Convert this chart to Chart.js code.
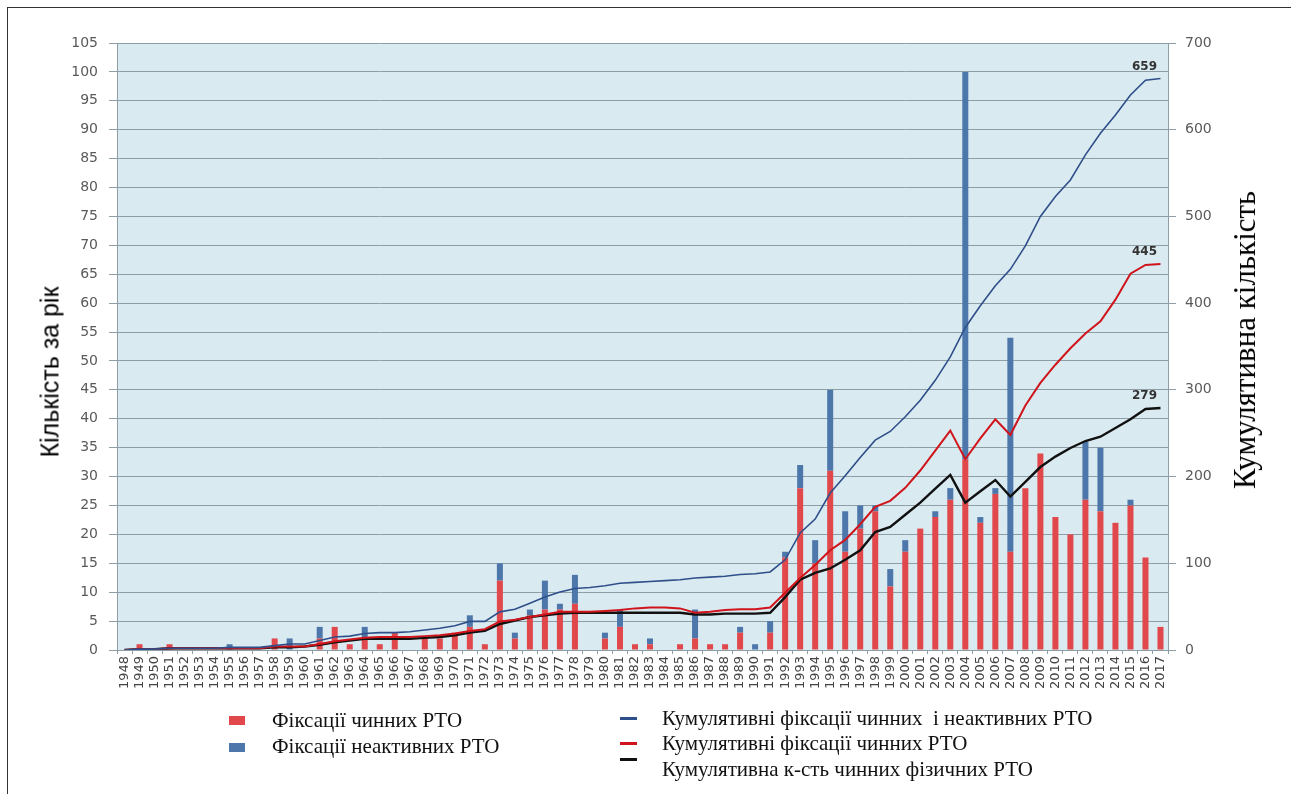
<!DOCTYPE html>
<html lang="uk">
<head>
<meta charset="utf-8">
<title>Фіксації РТО</title>
<script src="https://cdn.jsdelivr.net/npm/chart.js@4.4.1/dist/chart.umd.min.js"></script>
<style>
  html, body { margin: 0; padding: 0; background: #fff; }
  #wrap { position: relative; width: 1291px; height: 794px; overflow: hidden; background: #fff; }
  #frame { position: absolute; left: 7px; top: 7px; width: 1300px; height: 800px;
           border-left: 1.5px solid #333; border-top: 1.5px solid #333; }
  #myChart { position: absolute; left: 0; top: 0; }
  .axisTitle { position: absolute; white-space: nowrap; color: #000;
               transform: translate(-50%, -50%) rotate(-90deg); }
  .lgText { position: absolute; white-space: nowrap; font: 21px "Liberation Serif", serif;
            color: #111; line-height: 24px; }
  .lgBox { position: absolute; width: 16px; height: 9px; }
  .lgLine { position: absolute; width: 17px; height: 3px; }
</style>
</head>
<body>
<div id="wrap">
  <div id="frame"></div>
  <canvas id="myChart" width="1291" height="794"></canvas>

  <div class="axisTitle" style="left:50px; top:372px; font:25px 'Liberation Sans', sans-serif;">Кількість за рік</div>
  <div class="axisTitle" style="left:1245px; top:340px; font:31px 'Liberation Serif', serif;">Кумулятивна кількість</div>

  <!-- legend -->
  <div class="lgBox" style="left:229px; top:716px; background:#e0484c;"></div>
  <div class="lgText" style="left:272px; top:708px;">Фіксації чинних РТО</div>
  <div class="lgBox" style="left:229px; top:743px; background:#4d77aa;"></div>
  <div class="lgText" style="left:272px; top:734px;">Фіксації неактивних РТО</div>

  <div class="lgLine" style="left:620px; top:717px; background:#2f4f8a;"></div>
  <div class="lgText" style="left:662px; top:706px;">Кумулятивні фіксації чинних &nbsp;і неактивних РТО</div>
  <div class="lgLine" style="left:620px; top:742px; background:#d0141b;"></div>
  <div class="lgText" style="left:662px; top:731px;">Кумулятивні фіксації чинних РТО</div>
  <div class="lgLine" style="left:620px; top:758px; background:#111;"></div>
  <div class="lgText" style="left:662px; top:757px;">Кумулятивна к-сть чинних фізичних РТО</div>
</div>

<script>
// categories
const years = [
  "1948", "1949", "1950", "1951", "1952", "1953", "1954", "1955", "1956", "1957",
  "1958", "1959", "1960", "1961", "1962", "1963", "1964", "1965", "1966", "1967",
  "1968", "1969", "1970", "1971", "1972", "1973", "1974", "1975", "1976", "1977",
  "1978", "1979", "1980", "1981", "1982", "1983", "1984", "1985", "1986", "1987",
  "1988", "1989", "1990", "1991", "1992", "1993", "1994", "1995", "1996", "1997",
  "1998", "1999", "2000", "2001", "2002", "2003", "2004", "2005", "2006", "2007",
  "2008", "2009", "2010", "2011", "2012", "2013", "2014", "2015", "2016", "2017",
];

// bars, left axis (per year)
const activeFix = [
  0, 1, 0, 1, 0, 0, 0, 0, 0, 0,
  2, 0, 0, 2, 4, 1, 2, 1, 3, 0,
  2, 2, 3, 4, 1, 12, 2, 6, 7, 7,
  8, 0, 2, 4, 1, 1, 0, 1, 2, 1,
  1, 3, 0, 3, 16, 28, 15, 31, 17, 21,
  24, 11, 17, 21, 23, 26, 33, 22, 27, 17,
  28, 34, 23, 20, 26, 24, 22, 25, 16, 4,
];
const inactiveFix = [
  0, 0, 0, 0, 0, 0, 0, 1, 0, 0,
  0, 2, 0, 2, 0, 0, 2, 0, 0, 0,
  0, 0, 0, 2, 0, 3, 1, 1, 5, 1,
  5, 0, 1, 3, 0, 1, 0, 0, 5, 0,
  0, 1, 1, 2, 1, 4, 4, 14, 7, 4,
  1, 3, 2, 0, 1, 2, 67, 1, 1, 37,
  0, 0, 0, 0, 10, 11, 0, 1, 0, 0,
];

// lines, right axis (cumulative)
const cumAll = [
  0, 1, 1, 2, 2, 2, 2, 3, 3, 3,
  5, 7, 7, 11, 15, 16, 19, 20, 20, 21,
  23, 25, 28, 33, 33, 44, 47, 54, 61, 67,
  71, 72, 74, 77, 78, 79, 80, 81, 83, 84,
  85, 87, 88, 90, 104, 135, 151, 181, 201, 222,
  242, 252, 269, 288, 311, 338, 372, 397, 420, 439,
  466, 500, 523, 542, 571, 596, 617, 640, 657, 659,
];
const cumActive = [
  0, 1, 1, 2, 2, 2, 2, 2, 2, 2,
  4, 4, 4, 7, 10, 12, 14, 15, 15, 15,
  16, 17, 19, 22, 24, 33, 35, 38, 41, 44,
  44, 44, 45, 46, 48, 49, 49, 48, 43, 44,
  46, 47, 47, 49, 66, 83, 98, 115, 127, 145,
  165, 172, 187, 207, 230, 253, 220, 244, 266, 248,
  282, 308, 329, 348, 365, 379, 404, 434, 444, 445,
];
const cumPhysical = [
  0, 1, 1, 2, 2, 2, 2, 2, 2, 2,
  3, 3, 4, 6, 9, 11, 13, 13, 13, 13,
  14, 15, 17, 20, 22, 30, 34, 38, 40, 42,
  43, 43, 43, 43, 43, 43, 43, 43, 41, 41,
  42, 42, 42, 43, 61, 81, 89, 94, 104, 115,
  136, 142, 156, 170, 186, 202, 170, 183, 196, 177,
  194, 211, 223, 233, 241, 246, 256, 266, 278, 279,
];

// axis ranges
const leftMax = 105;
const leftStep = 5;
const rightMax = 700;
const rightStep = 100;

const gridColor = "#8e9ea6";
const tickFont = { family: "DejaVu Sans", size: 14 };

// light blue plot background
const plotBg = {
  id: "plotBg",
  beforeDraw(chart) {
    const { ctx, chartArea: a } = chart;
    ctx.save();
    ctx.fillStyle = "#daeaf1";
    ctx.fillRect(a.left, a.top, a.right - a.left, a.bottom - a.top);
    ctx.restore();
  },
};

// value at the end of each cumulative line
const endLabels = {
  id: "endLabels",
  afterDatasetsDraw(chart) {
    const ctx = chart.ctx;
    ctx.save();
    ctx.font = "bold 12px 'DejaVu Sans'";
    ctx.fillStyle = "#333";
    ctx.textAlign = "center";
    ctx.textBaseline = "middle";
    chart.data.datasets.forEach((ds, i) => {
      if (ds.type !== "line") return;
      const pts = chart.getDatasetMeta(i).data;
      const last = pts[pts.length - 1];
      ctx.fillText(String(ds.data[ds.data.length - 1]), last.x - 16, last.y - 12);
    });
    ctx.restore();
  },
};

const config = {
  type: "bar",
  data: {
    labels: years,
    datasets: [
      {
        type: "line",
        label: "Кумулятивні фіксації чинних і неактивних РТО",
        data: cumAll,
        yAxisID: "y1",
        borderColor: "#2f4f8a",
        borderWidth: 1.6,
        pointRadius: 0,
        tension: 0,
        order: 1,
      },
      {
        type: "line",
        label: "Кумулятивні фіксації чинних РТО",
        data: cumActive,
        yAxisID: "y1",
        borderColor: "#d0141b",
        borderWidth: 2,
        pointRadius: 0,
        tension: 0,
        order: 1,
      },
      {
        type: "line",
        label: "Кумулятивна к-сть чинних фізичних РТО",
        data: cumPhysical,
        yAxisID: "y1",
        borderColor: "#111",
        borderWidth: 2.4,
        pointRadius: 0,
        tension: 0,
        order: 1,
      },
      {
        type: "bar",
        label: "Фіксації чинних РТО",
        data: activeFix,
        yAxisID: "y",
        stack: "fix",
        backgroundColor: "#e0484c",
        categoryPercentage: 1,
        barPercentage: 0.4,
        order: 2,
      },
      {
        type: "bar",
        label: "Фіксації неактивних РТО",
        data: inactiveFix,
        yAxisID: "y",
        stack: "fix",
        backgroundColor: "#4d77aa",
        categoryPercentage: 1,
        barPercentage: 0.4,
        order: 2,
      },
    ],
  },
  options: {
    responsive: false,
    devicePixelRatio: 1,
    animation: false,
    layout: { padding: { top: 43, left: 0, right: 0, bottom: 0 } },
    plugins: {
      legend: { display: false },
      tooltip: { enabled: false },
    },
    scales: {
      x: {
        stacked: true,
        offset: true,
        grid: { drawOnChartArea: false, drawTicks: true, tickLength: 4, color: gridColor },
        border: { color: gridColor },
        ticks: {
          autoSkip: false,
          minRotation: 90,
          maxRotation: 90,
          padding: 2,
          color: "#444",
          font: { family: "DejaVu Sans", size: 13 },
        },
        afterFit: (s) => { s.height = 144; },
      },
      y: {
        position: "left",
        stacked: true,
        min: 0,
        max: leftMax,
        ticks: { stepSize: leftStep, padding: 11, color: "#5a5a5a", font: tickFont },
        grid: { color: gridColor, tickLength: 8 },
        border: { color: gridColor },
        afterFit: (s) => { s.width = 117; },
      },
      y1: {
        position: "right",
        min: 0,
        max: rightMax,
        ticks: { stepSize: rightStep, padding: 9, color: "#5a5a5a", font: tickFont },
        grid: { drawOnChartArea: false, tickLength: 8, color: gridColor },
        border: { color: gridColor },
        afterFit: (s) => { s.width = 123; },
      },
    },
  },
  plugins: [plotBg, endLabels],
};

const myChart = new Chart(document.getElementById("myChart"), config);
</script>
</body>
</html>
